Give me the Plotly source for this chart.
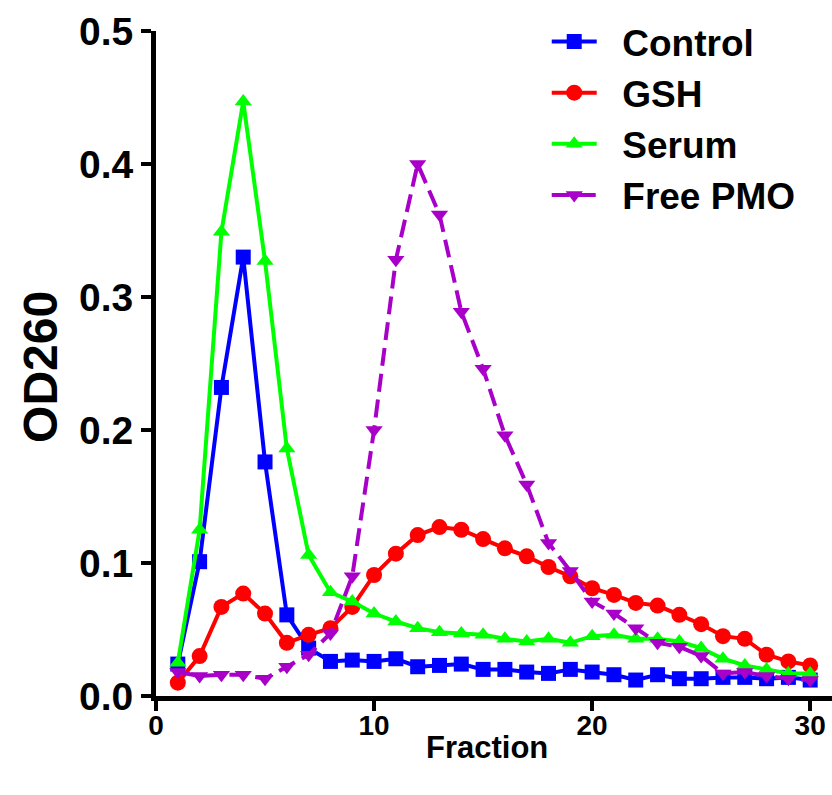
import plotly.graph_objects as go

fraction = list(range(1, 31))

control = [0.024, 0.101, 0.232, 0.330, 0.176, 0.061, 0.036, 0.026, 0.027, 0.026,
           0.028, 0.022, 0.023, 0.024, 0.020, 0.020, 0.018, 0.017, 0.020, 0.018,
           0.016, 0.012, 0.016, 0.013, 0.013, 0.014, 0.014, 0.013, 0.014, 0.012]

gsh = [0.010, 0.030, 0.067, 0.077, 0.062, 0.040, 0.046, 0.051, 0.067, 0.091,
       0.107, 0.121, 0.127, 0.125, 0.118, 0.111, 0.105, 0.097, 0.090, 0.081,
       0.076, 0.070, 0.068, 0.061, 0.054, 0.045, 0.043, 0.031, 0.026, 0.023]

serum = [0.025, 0.125, 0.349, 0.447, 0.327, 0.186, 0.106, 0.078, 0.071, 0.062,
         0.056, 0.051, 0.048, 0.047, 0.046, 0.043, 0.041, 0.043, 0.040, 0.045,
         0.046, 0.043, 0.043, 0.041, 0.036, 0.028, 0.023, 0.020, 0.017, 0.017]

free_pmo = [0.018, 0.015, 0.016, 0.016, 0.013, 0.022, 0.031, 0.047, 0.090, 0.200,
            0.328, 0.400, 0.362, 0.289, 0.246, 0.196, 0.159, 0.115, 0.094, 0.071,
            0.062, 0.051, 0.040, 0.037, 0.030, 0.017, 0.018, 0.015, 0.013, 0.012]

series = [
    ("Control", control, "#0000FF", "square", "solid", 15),
    ("GSH", gsh, "#FF0000", "circle", "solid", 16),
    ("Serum", serum, "#00FF00", "triangle-up", "solid", 15),
    ("Free PMO", free_pmo, "#A800C8", "triangle-down", "18px,8px", 15),
]

fig = go.Figure()
for name, vals, color, sym, dash, size in series:
    fig.add_trace(go.Scatter(
        x=fraction, y=vals, name="\u00a0\u00a0" + name, mode="lines+markers",
        line=dict(color=color, width=4, dash=dash),
        marker=dict(symbol=sym, size=size, color=color),
        cliponaxis=False,
    ))

font_fam = "Arial, Liberation Sans, sans-serif"
fig.update_layout(
    width=832, height=795,
    margin=dict(l=156, r=0, t=31, b=99),
    paper_bgcolor="white", plot_bgcolor="white",
    font=dict(family=font_fam, color="black"),
    showlegend=True,
    legend=dict(
        x=0.578, y=1.03, xanchor="left", yanchor="top",
        font=dict(size=37, family=font_fam, weight="bold"),
        bgcolor="rgba(0,0,0,0)", itemwidth=45, tracegroupgap=0,
    ),
    xaxis=dict(
        range=[0, 31], tickvals=[0, 10, 20, 30],
        showline=True, linecolor="black", linewidth=5,
        ticks="outside", ticklen=10, tickwidth=4, tickcolor="black",
        showgrid=False, zeroline=False, ticklabelstandoff=-10,
        tickfont=dict(size=28, family=font_fam, weight="bold"),
    ),
    yaxis=dict(
        range=[0, 0.5], tickvals=[0, 0.1, 0.2, 0.3, 0.4, 0.5],
        tickformat=".1f",
        showline=True, linecolor="black", linewidth=5,
        ticks="outside", ticklen=10, tickwidth=4, tickcolor="black",
        showgrid=False, zeroline=False,
        tickfont=dict(size=39, family=font_fam, weight="bold"),
    ),
    annotations=[
        dict(text="Fraction", xref="paper", yref="paper", x=0.49, y=-0.078,
             xanchor="center", yanchor="middle", showarrow=False,
             font=dict(size=31, family=font_fam, weight="bold")),
        dict(text="OD260", xref="paper", yref="paper", x=-0.17, y=0.495,
             xanchor="center", yanchor="middle", showarrow=False, textangle=-90,
             font=dict(size=48, family=font_fam, weight="bold")),
    ],
)

fig.write_html("out.html", config={"displayModeBar": False},
               post_script="document.body.style.margin='0';")
